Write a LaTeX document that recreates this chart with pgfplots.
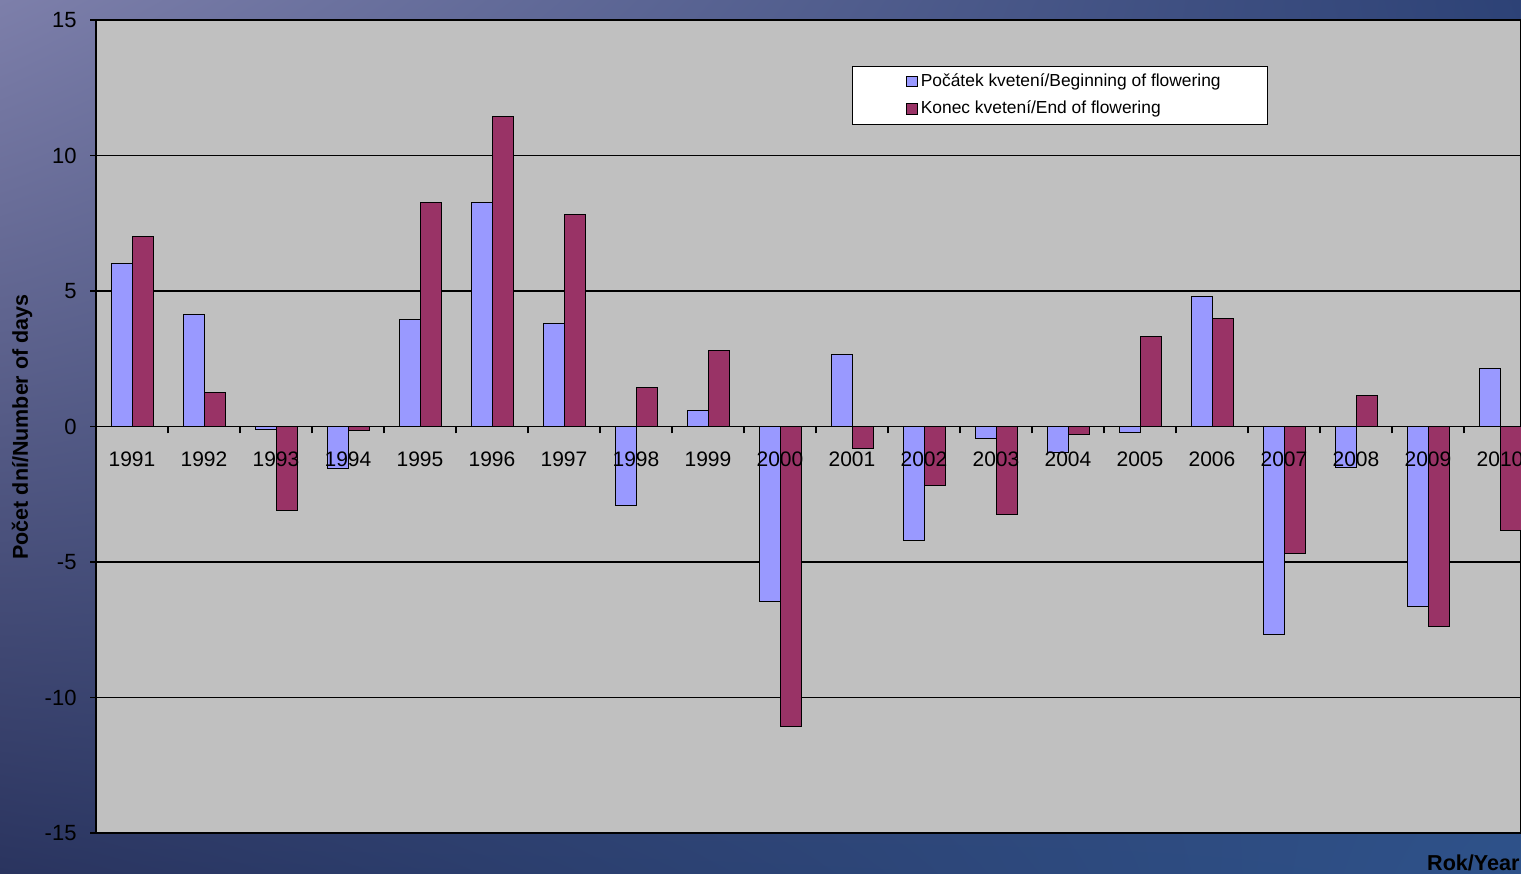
\documentclass[border=0pt]{standalone}
\usepackage{pgfplots}
\pgfplotsset{compat=1.18}
\usepackage{fontspec}
\setmainfont{Liberation Sans}
\usetikzlibrary{shadings}
\definecolor{cblue}{HTML}{9999FF}
\definecolor{cmaroon}{HTML}{993366}
\definecolor{plotgray}{HTML}{C0C0C0}
\definecolor{bgUL}{RGB}{125,127,170}
\definecolor{bgUR}{RGB}{45,66,118}
\definecolor{bgLL}{RGB}{42,52,95}
\definecolor{bgLR}{RGB}{46,82,138}
\begin{document}
\begin{tikzpicture}
\useasboundingbox (0,0) rectangle (760.5pt,436.5pt);
\shade[upper left=bgUL, upper right=bgUR, lower left=bgLL, lower right=bgLR] (0,0) rectangle (760.5pt,436.5pt);
\begin{axis}[
  at={(48pt,20pt)}, anchor=south west,
  scale only axis, width=712.5pt, height=406.5pt,
  xmin=-0.5, xmax=19.2917, ymin=-15, ymax=15,
  ytick={-15,-10,...,15},
  xtick=\empty,
  ymajorgrids, grid style={black, line width=0.6pt},
  ybar=0pt, bar width=10.5pt,
  axis background/.style={fill=plotgray},
  x axis line style={draw=gray, line width=0.8pt},
  y axis line style={draw=black, line width=0.6pt},
  tick align=outside, major tick length=3pt,
  ytick style={black, line width=0.6pt},
  yticklabel style={font=\fontsize{11}{12}\selectfont, xshift=-3.2pt},
  /pgf/number format/assume math mode=true,
  legend cell align=left,
  legend image code/.code={\path (-5pt,0pt); \draw[#1,/tikz/.cd] (0pt,-2.7pt) rectangle (5.4pt,2.7pt);},
  legend style={at={(0.5305,0.9434)}, anchor=north west, draw=black, fill=white,
    font=\fontsize{8.7}{10}\selectfont, minimum width=207.5pt, minimum height=28pt,
    nodes={minimum width=0pt, minimum height=0pt, inner sep=1.6pt},
    row sep=2.6pt},
]
\addplot[fill=cblue, draw=black, line width=0.5pt] coordinates {
(0,6.01) (1,4.13) (2,-0.1) (3,-1.55) (4,3.95) (5,8.27) (6,3.8) (7,-2.9) (8,0.59) (9,-6.46)
(10,2.66) (11,-4.2) (12,-0.44) (13,-0.96) (14,-0.22) (15,4.8) (16,-7.68) (17,-1.51) (18,-6.64) (19,2.14)};
\addlegendentry{Počátek kvetení/Beginning of flowering}
\addplot[fill=cmaroon, draw=black, line width=0.5pt] coordinates {
(0,7.0) (1,1.25) (2,-3.1) (3,-0.15) (4,8.27) (5,11.44) (6,7.82) (7,1.44) (8,2.8) (9,-11.07)
(10,-0.81) (11,-2.18) (12,-3.25) (13,-0.3) (14,3.32) (15,3.99) (16,-4.69) (17,1.14) (18,-7.38) (19,-3.84)};
\addlegendentry{Konec kvetení/End of flowering}
\end{axis}
\begin{axis}[
  at={(48pt,20pt)}, anchor=south west,
  scale only axis, width=712.5pt, height=406.5pt,
  xmin=-0.5, xmax=19.2917, ymin=-15, ymax=15,
  axis x line*=middle, axis y line=none,
  xtick={0,...,19},
  xticklabels={1991,1992,1993,1994,1995,1996,1997,1998,1999,2000,2001,2002,2003,2004,2005,2006,2007,2008,2009,2010},
  minor xtick={0.5,1.5,...,18.5},
  major tick length=0pt, minor tick length=3.5pt,
  xtick align=outside,
  minor x tick style={black, line width=0.6pt},
  x axis line style={black, line width=0.6pt},
  xticklabel style={font=\fontsize{10.5}{12}\selectfont, yshift=-9pt},
]
\end{axis}
\node[rotate=90, font=\bfseries\fontsize{10.75}{12}\selectfont] at (11pt,223pt) {Počet dní/Number of days};
\node[anchor=east, font=\bfseries\fontsize{10.8}{12}\selectfont, inner sep=0pt] at (760pt,5pt) {Rok/Year};
\end{tikzpicture}
\end{document}
